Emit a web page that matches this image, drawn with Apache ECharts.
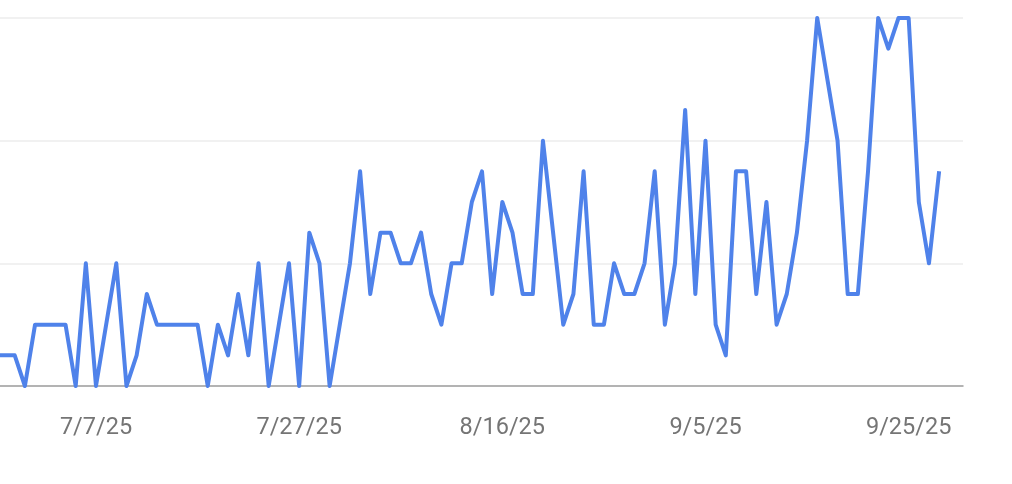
<!DOCTYPE html>
<html>
<head>
<meta charset="utf-8">
<script src="https://cdn.jsdelivr.net/npm/echarts@6/dist/echarts.min.js"></script>
<style>
html,body{margin:0;padding:0;background:#fff;}
#chart{width:1012px;height:484px;}
</style>
</head>
<body>
<div id="chart"></div>
<script>
// Daily dates from 6/27/25 to 9/28/25 (index 0 = 6/27/25)
const startDate = new Date(2025, 5, 27);
const values = [
  1, 1, 1, 0, 2, 2, 2, 2, 0, 4,
  0, 2, 4, 0, 1, 3, 2, 2, 2, 2,
  2, 0, 2, 1, 3, 1, 4, 0, 2, 4,
  0, 5, 4, 0, 2, 4, 7, 3, 5, 5,
  4, 4, 5, 3, 2, 4, 4, 6, 7, 3,
  6, 5, 3, 3, 8, 5, 2, 3, 7, 2,
  2, 4, 3, 3, 4, 7, 2, 4, 9, 3,
  8, 2, 1, 7, 7, 3, 6, 2, 3, 5,
  8, 12, 10, 8, 3, 3, 7, 12, 11, 12,
  12, 6, 4, 7
];
const tickIndexes = [10, 30, 50, 70, 90]; // 7/7/25, 7/27/25, 8/16/25, 9/5/25, 9/25/25
const yTicks = { min: 0, max: 12, interval: 4 };
const xRange = { min: 0.55, max: 95.35 };

function dateLabel(idx) {
  const d = new Date(startDate.getFullYear(), startDate.getMonth(), startDate.getDate() + Math.round(idx));
  return (d.getMonth() + 1) + '/' + d.getDate() + '/' + String(d.getFullYear()).slice(2);
}
const seriesData = values.map(function (v, i) { return [i, v]; });

const chart = echarts.init(document.getElementById('chart'), null, { renderer: 'canvas' });
chart.setOption({
  animation: false,
  backgroundColor: '#ffffff',
  grid: { left: 0, right: 49, top: 18, bottom: 98, containLabel: false },
  xAxis: {
    type: 'value',
    min: xRange.min,
    max: xRange.max,
    axisLine: { show: true, onZero: false, lineStyle: { color: '#9e9e9e', width: 1.5 } },
    axisTick: { show: false },
    axisLabel: {
      customValues: tickIndexes,
      formatter: function (v) { return dateLabel(v); },
      color: '#757575',
      fontFamily: 'Roboto',
      fontSize: 23.5,
      margin: 30,
      showMinLabel: true,
      showMaxLabel: true
    },
    splitLine: { show: false }
  },
  yAxis: {
    type: 'value',
    min: yTicks.min,
    max: yTicks.max,
    interval: yTicks.interval,
    axisLine: { show: false },
    axisTick: { show: false },
    axisLabel: { show: false },
    splitLine: { show: true, lineStyle: { color: '#ececec', width: 1.5 } }
  },
  series: [{
    type: 'line',
    data: seriesData,
    symbol: 'none',
    lineStyle: { color: '#4f82ea', width: 4, join: 'round' },
    clip: true
  }]
});
</script>
</body>
</html>
